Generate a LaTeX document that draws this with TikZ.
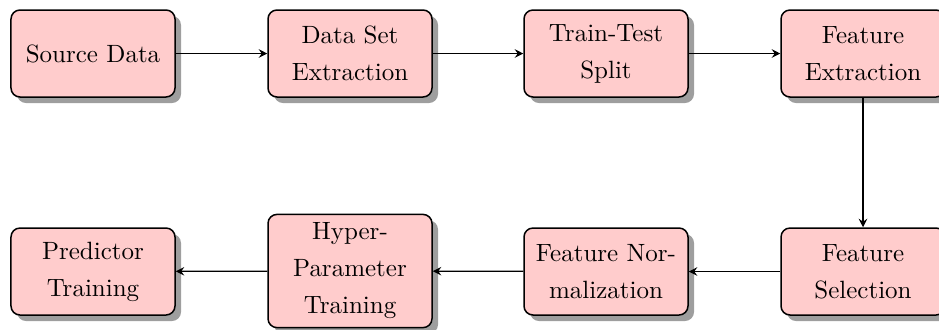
\documentclass[tikz,border=0pt]{standalone}
\usetikzlibrary{shadows,arrows.meta}
\begin{document}
\begin{tikzpicture}[x=0.4pt,y=-0.4pt,
  stagebox/.style={draw=black, line width=0.6pt, fill=red!20, rounded corners=3.6pt,
    minimum width=65.6pt, minimum height=34.8pt, inner xsep=2pt, inner ysep=3.4pt,
    align=center, font=\fontsize{10}{14.8}\selectfont,
    drop shadow={shadow xshift=2.4pt, shadow yshift=-2.4pt, fill=black!38, opacity=1}},
  flow/.style={draw=black, line width=0.5pt, -{Stealth[length=3.4pt,width=3.4pt,inset=1.2pt]}}]
\useasboundingbox (0,0) rectangle (939,329);
% top row, left to right
\node[stagebox] (src)  at (93,53.5)  {Source Data};
\node[stagebox] (dse)  at (350,53.5) {Data Set\\Extraction};
\node[stagebox] (tts)  at (606,53.5) {Train-Test\\Split};
\node[stagebox] (fext) at (863,53.5) {Feature\\Extraction};
% bottom row, right to left
\node[stagebox] (fsel) at (863,271.5) {Feature\\Selection};
\node[stagebox] (fnor) at (606,271.5) {Feature Nor-\\malization};
\node[stagebox] (hpt)  at (350,271)   {Hyper-\\Parameter\\Training};
\node[stagebox] (pred) at (93,271.5)  {Predictor\\Training};
% connectors
\draw[flow] (src) -- (dse);
\draw[flow] (dse) -- (tts);
\draw[flow] (tts) -- (fext);
\draw[flow] (fext) -- (fsel);
\draw[flow] (fsel) -- (fnor);
\draw[flow] (fnor) -- (hpt);
\draw[flow] (hpt) -- (pred);
\end{tikzpicture}
\end{document}
